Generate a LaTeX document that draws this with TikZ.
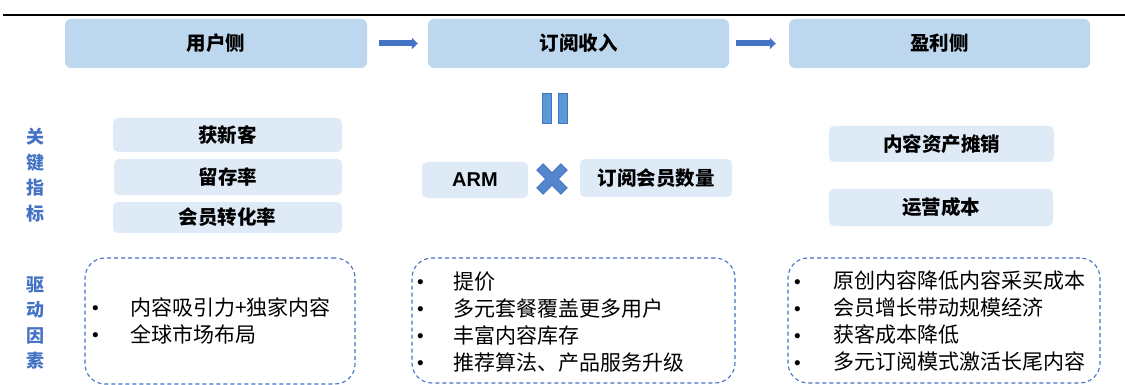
\documentclass[tikz,border=0pt]{standalone}
\usepackage{fontspec}
\setmainfont{Noto Sans CJK SC}
\newfontfamily\arialfont{Liberation Sans}
\usetikzlibrary{arrows.meta}
\definecolor{hdr}{HTML}{BDD7EE}
\definecolor{lite}{HTML}{DEEBF7}
\definecolor{blu}{HTML}{4472C4}
\definecolor{barblue}{HTML}{5B9BD5}
\definecolor{crossblue}{HTML}{5585CC}
\tikzset{
  hdrbox/.style={fill=hdr, rounded corners=6pt, inner sep=0pt, font=\fontsize{19.5}{21}\selectfont\bfseries},
  metbox/.style={fill=lite, rounded corners=5pt, inner sep=0pt, font=\fontsize{19.5}{21}\selectfont\bfseries},
  dashbox/.style={draw=blu, line width=1.1pt, dash pattern=on 4pt off 3pt, rounded corners=20pt, inner sep=0pt},
  bigarrow/.style={draw=blu, line width=6pt, -{Triangle[length=6pt,width=11pt]}},
  sidelabel/.style={text=blu, align=center, inner sep=0pt, font=\fontsize{18}{25.5}\selectfont\bfseries},
  bullettext/.style={anchor=west, align=left, inner sep=0pt, font=\fontsize{21}{27}\selectfont},
}
\newcommand{\bul}[1]{\makebox[#1pt][l]{\raisebox{0.5pt}{\arialfont\fontsize{19}{19}\selectfont •}}}
\begin{document}
\begin{tikzpicture}[x=1pt,y=-1pt]
\useasboundingbox (0,0) rectangle (1125,385);
\draw[line width=2pt] (3,15) -- (1125,15);
% headers
\node[hdrbox, minimum width=302pt, minimum height=49pt] (h1) at (216,43.5) {用户侧};
\node[hdrbox, minimum width=301pt, minimum height=49pt] (h2) at (578.5,43.5) {订阅收入};
\node[hdrbox, minimum width=301pt, minimum height=49pt] (h3) at (939.5,43.5) {盈利侧};
\draw[bigarrow] ([xshift=12pt]h1.east) -- ([xshift=-10pt]h2.west);
\draw[bigarrow] ([xshift=7pt]h2.east) -- ([xshift=-13pt]h3.west);
% equals bars
\draw[fill=barblue, draw=blu, line width=0.6pt] (542,93) rectangle (551,123);
\draw[fill=barblue, draw=blu, line width=0.6pt] (558,93) rectangle (567,123);
% side labels
\node[sidelabel] (k1) at (35,175) {关\\键\\指\\标};
\node[sidelabel] (k2) at (35,323) {驱\\动\\因\\素};
% left metrics
\node[metbox, minimum width=229pt, minimum height=34pt] (m1) at (227.5,135) {获新客};
\node[metbox, minimum width=228pt, minimum height=36pt] (m2) at (228,177) {留存率};
\node[metbox, minimum width=229pt, minimum height=31pt] (m3) at (227.5,217.5) {会员转化率};
% middle metrics
\node[metbox, minimum width=106pt, minimum height=36pt, font=\fontsize{20}{21}\selectfont\arialfont\bfseries] (arm) at (475,180) {ARM};
\node[metbox, minimum width=152pt, minimum height=38pt] (subs) at (656,178) {订阅会员数量};
% cross
\begin{scope}[shift={(552,179)}, rotate=45]
\fill[crossblue, draw=blu, line width=0.8pt]
  (-4.5,-17) -- (4.5,-17) -- (4.5,-4.5) -- (17,-4.5) -- (17,4.5) -- (4.5,4.5) -- (4.5,17)
  -- (-4.5,17) -- (-4.5,4.5) -- (-17,4.5) -- (-17,-4.5) -- (-4.5,-4.5) -- cycle;
\end{scope}
% right metrics
\node[metbox, minimum width=225pt, minimum height=36pt] (r1) at (941.5,144) {内容资产摊销};
\node[metbox, minimum width=224pt, minimum height=37pt] (r2) at (941,207.5) {运营成本};
% dashed boxes
\node[dashbox, minimum width=270pt, minimum height=126pt] (d1) at (220,321) {};
\node[dashbox, minimum width=323pt, minimum height=125pt] (d2) at (573.5,320.5) {};
\node[dashbox, minimum width=312pt, minimum height=125pt] (d3) at (944,320.5) {};
\node[bullettext] (t1) at (92,320.5) {\bul{38}内容吸引力+独家内容\\\bul{38}全球市场布局};
\node[bullettext] (t2) at (417,322) {\bul{36}提价\\\bul{36}多元套餐覆盖更多用户\\\bul{36}丰富内容库存\\\bul{36}推荐算法、产品服务升级};
\node[bullettext] (t3) at (794,321) {\bul{39}原创内容降低内容采买成本\\\bul{39}会员增长带动规模经济\\\bul{39}获客成本降低\\\bul{39}多元订阅模式激活长尾内容};
\end{tikzpicture}
\end{document}
